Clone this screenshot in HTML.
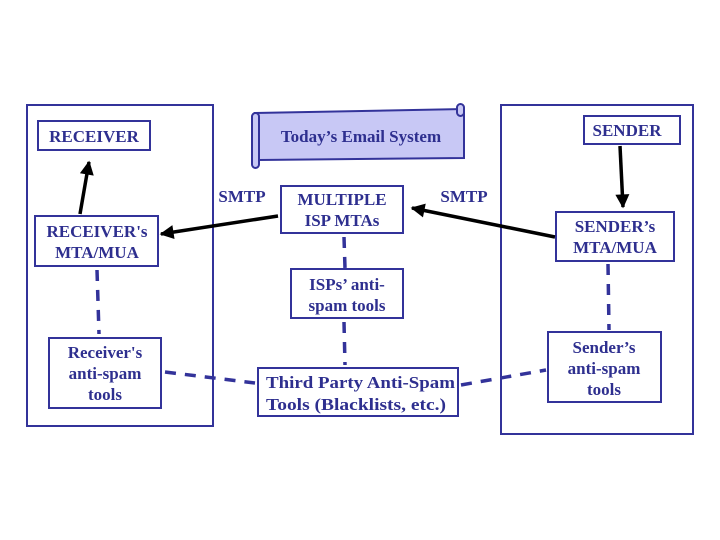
<!DOCTYPE html>
<html><head><meta charset="utf-8"><style>
html,body{margin:0;padding:0;background:#fff}
svg{display:block}
text{font-family:"Liberation Serif",serif;font-weight:bold;fill:#2e2f8f;font-size:17px;text-anchor:middle}
</style></head><body>
<svg width="720" height="540" viewBox="0 0 720 540">
<defs>
<marker id="a2" viewBox="0 0 10 10" markerWidth="16" markerHeight="14" refX="9" refY="5" orient="auto" markerUnits="userSpaceOnUse"><path d="M0,0 L10,5 L0,10 z" fill="#000"/></marker></defs>
<g fill="none" stroke="#33339a" stroke-width="2">
<rect x="27" y="105" width="186" height="321"/>
<rect x="501" y="105" width="192" height="329"/>
<rect x="38" y="121" width="112" height="29"/>
<rect x="35" y="216" width="123" height="50"/>
<rect x="49" y="338" width="112" height="70"/>
<rect x="281" y="186" width="122" height="47"/>
<rect x="291" y="269" width="112" height="49"/>
<rect x="258" y="368" width="200" height="48"/>
<rect x="584" y="116" width="96" height="28"/>
<rect x="556" y="212" width="118" height="49"/>
<rect x="548" y="332" width="113" height="70"/>
</g>
<path d="M255,113 L464,109 L464,158 L259,160 Z" fill="#c8c8f5" stroke="#33339a" stroke-width="2"/>
<rect x="252" y="113" width="7" height="55" rx="3.5" fill="#c8c8f5" stroke="#33339a" stroke-width="2"/>
<rect x="457" y="104" width="7" height="12" rx="3.5" fill="#c8c8f5" stroke="#33339a" stroke-width="2"/>
<g stroke="#33339a" stroke-width="3.5" stroke-dasharray="11,9" fill="none">
<line x1="97" y1="270" x2="99" y2="334"/>
<line x1="344" y1="237" x2="345" y2="268"/>
<line x1="344" y1="322" x2="345" y2="365"/>
<line x1="165" y1="372" x2="255" y2="383"/>
<line x1="461" y1="385" x2="546" y2="370"/>
<line x1="608" y1="264" x2="609" y2="330"/>
</g>
<g stroke="#000" stroke-width="3.5">
<line x1="620" y1="146" x2="623" y2="207" marker-end="url(#a2)"/>
<line x1="555" y1="237" x2="412" y2="208" marker-end="url(#a2)"/>
<line x1="278" y1="216" x2="161" y2="234" marker-end="url(#a2)"/>
<line x1="80" y1="214" x2="89" y2="162" marker-end="url(#a2)"/>
</g>
<text x="94" y="142">RECEIVER</text>
<text x="97" y="237">RECEIVER's</text>
<text x="97" y="258">MTA/MUA</text>
<text x="105" y="358">Receiver's</text>
<text x="105" y="379">anti-spam</text>
<text x="105" y="400">tools</text>
<text x="361" y="142" font-size="16">Today’s Email System</text>
<text x="242" y="202">SMTP</text>
<text x="464" y="202">SMTP</text>
<text x="342" y="205">MULTIPLE</text>
<text x="342" y="226">ISP MTAs</text>
<text x="347" y="290">ISPs’ anti-</text>
<text x="347" y="311">spam tools</text>
<text x="266" y="388" style="text-anchor:start" textLength="189" lengthAdjust="spacingAndGlyphs">Third Party Anti-Spam</text>
<text x="266" y="410" style="text-anchor:start" textLength="180" lengthAdjust="spacingAndGlyphs">Tools (Blacklists, etc.)</text>
<text x="627" y="136">SENDER</text>
<text x="615" y="232">SENDER’s</text>
<text x="615" y="253">MTA/MUA</text>
<text x="604" y="353">Sender’s</text>
<text x="604" y="374">anti-spam</text>
<text x="604" y="395">tools</text>
</svg>
</body></html>
